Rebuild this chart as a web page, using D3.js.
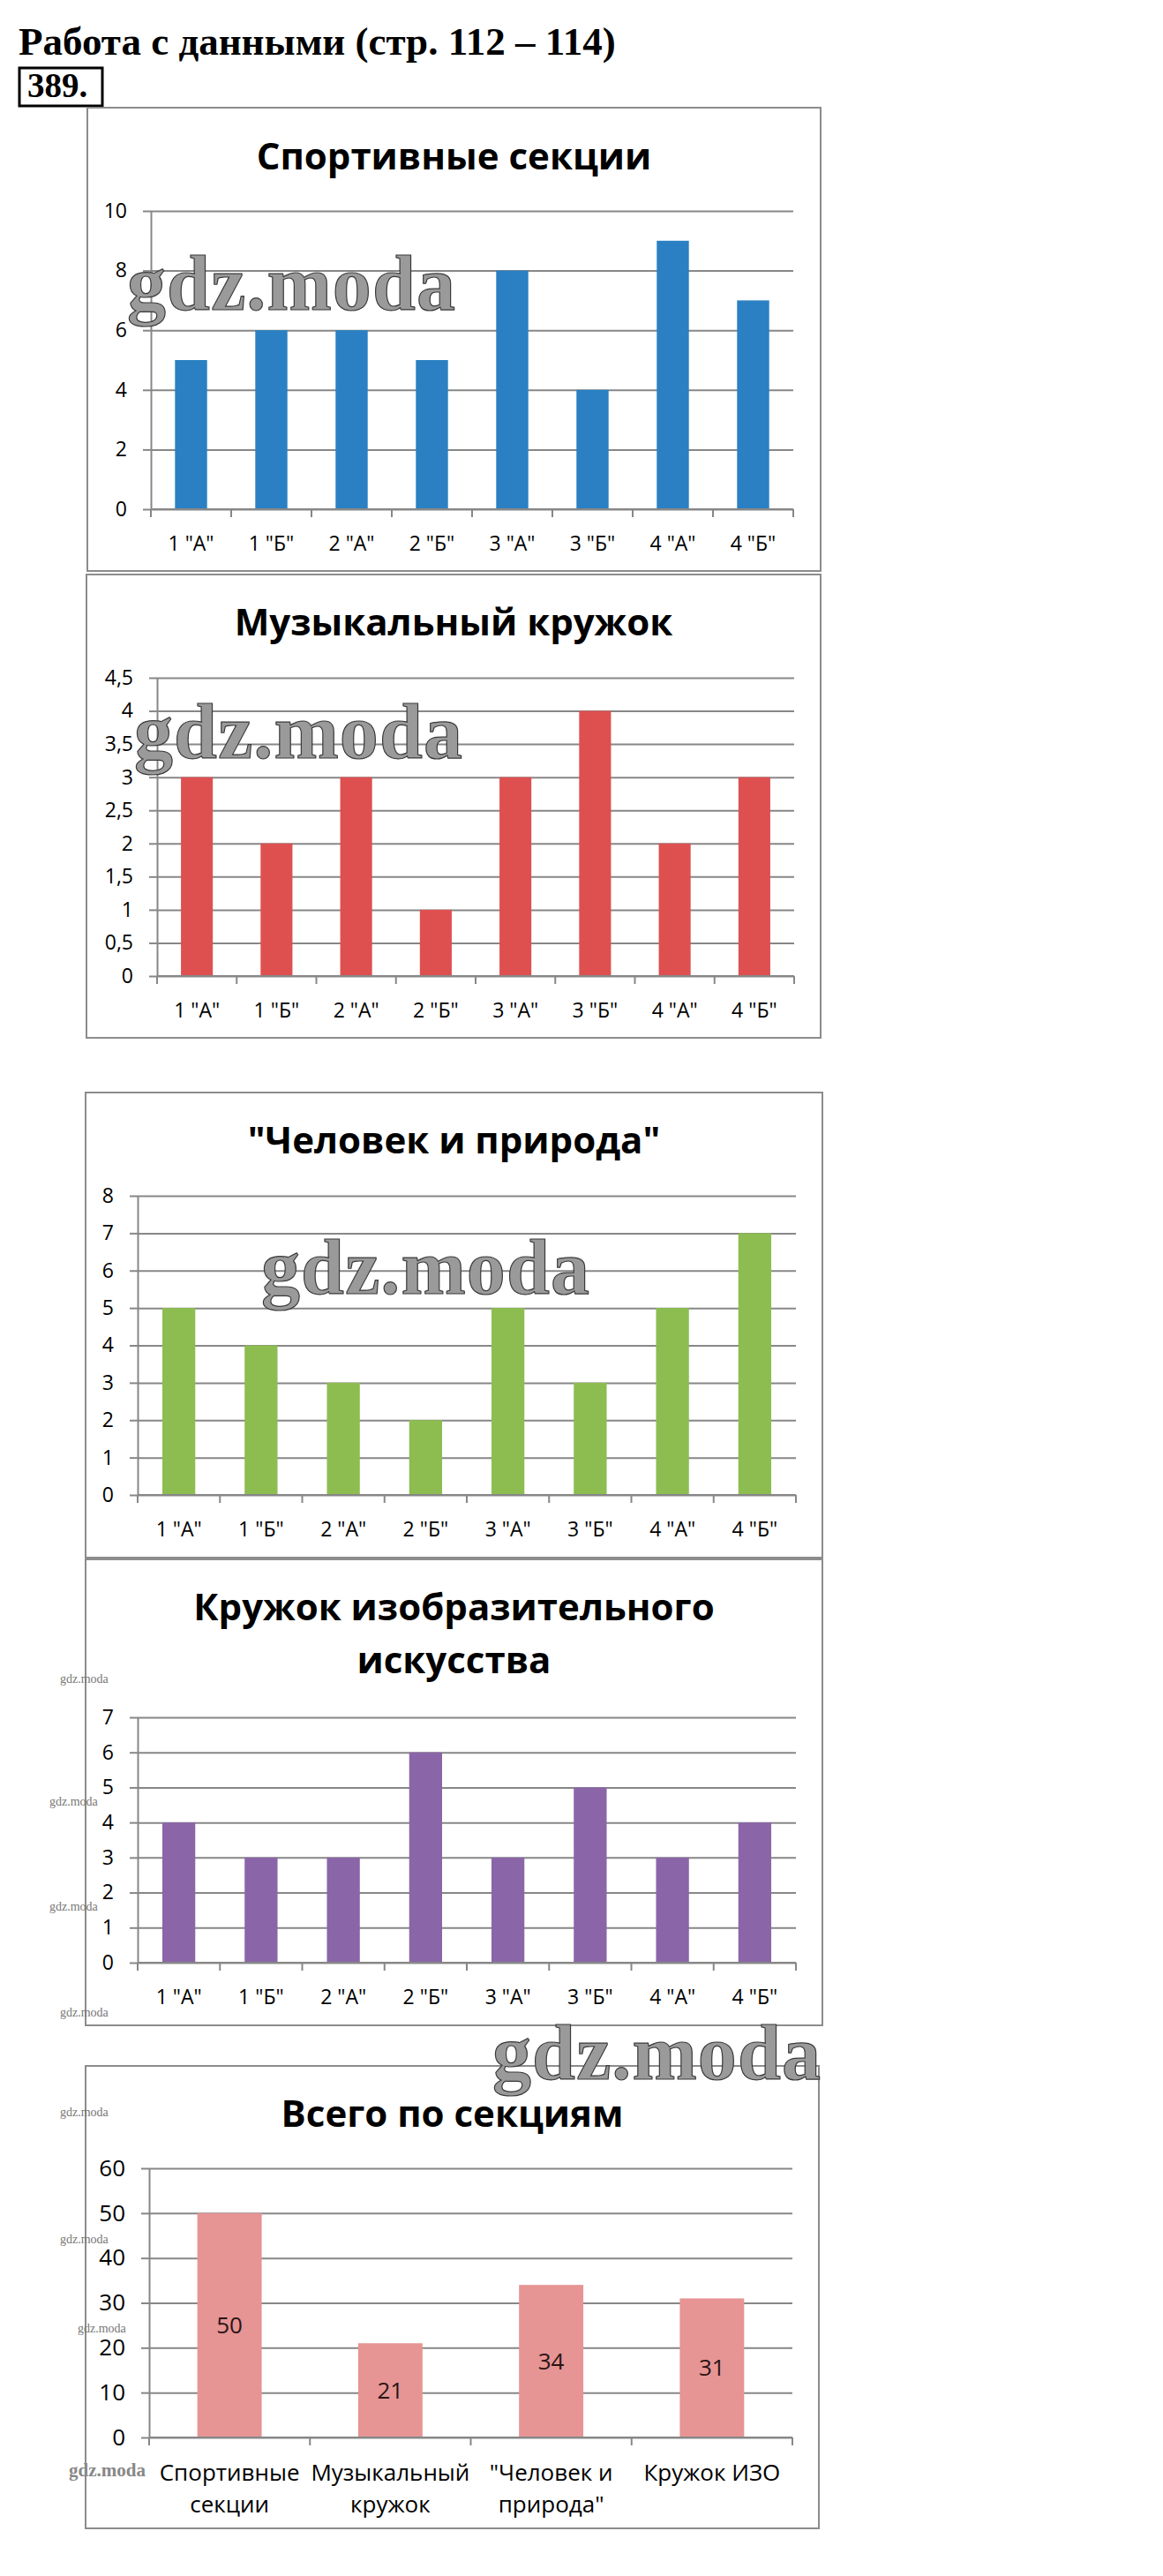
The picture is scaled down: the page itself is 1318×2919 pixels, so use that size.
<!DOCTYPE html>
<html>
<head>
<meta charset="utf-8">
<script src="https://cdn.jsdelivr.net/npm/d3@7"></script>
<style>
  body { margin: 0; background: #fff; }
  svg { display: block; }
</style>
</head>
<body>
<svg id="page"></svg>
<script>
// data
const classes = ['1 "А"', '1 "Б"', '2 "А"', '2 "Б"', '3 "А"', '3 "Б"', '4 "А"', '4 "Б"'];
const sportValues = [5, 6, 6, 5, 8, 4, 9, 7];
const musicValues = [3, 2, 3, 1, 3, 4, 2, 3];
const natureValues = [5, 4, 3, 2, 5, 3, 5, 7];
const artValues = [4, 3, 3, 6, 3, 5, 3, 4];
const totalCategories = ['Спортивные секции', 'Музыкальный кружок', '"Человек и природа"', 'Кружок ИЗО'];
const totalValues = [50, 21, 34, 31];

const sportTicks = [0, 2, 4, 6, 8, 10];
const musicTicks = [0, 0.5, 1, 1.5, 2, 2.5, 3, 3.5, 4, 4.5];
const natureTicks = [0, 1, 2, 3, 4, 5, 6, 7, 8];
const artTicks = [0, 1, 2, 3, 4, 5, 6, 7];
const totalTicks = [0, 10, 20, 30, 40, 50, 60];

const W = 1318, H = 2919;
const gridColor = "#878787";
const chartFont = "'Open Sans', sans-serif";

const svg = d3.select("#page").attr("width", W).attr("height", H);
svg.append("rect").attr("width", W).attr("height", H).attr("fill", "#fff");

// page header
svg.append("text")
  .attr("x", 21).attr("y", 62)
  .attr("font-family", "'Liberation Serif', serif")
  .attr("font-weight", "bold")
  .attr("font-size", 45)
  .text("Работа с данными (стр. 112 – 114)");

svg.append("rect")
  .attr("x", 22).attr("y", 77).attr("width", 94).attr("height", 43)
  .attr("fill", "none").attr("stroke", "#000").attr("stroke-width", 3);
svg.append("text")
  .attr("x", 31).attr("y", 110)
  .attr("font-family", "'Liberation Serif', serif")
  .attr("font-weight", "bold")
  .attr("font-size", 39)
  .text("389.");

const charts = [
  { title: ["Спортивные секции"], cats: classes, values: sportValues, ticks: sportTicks, color: "#2A80C2",
    box: [99, 122, 930, 647], plot: [171, 239, 899, 577], titleY: 192, fs: 23 },
  { title: ["Музыкальный кружок"], cats: classes, values: musicValues, ticks: musicTicks, color: "#DE5050",
    box: [98, 651, 930, 1176], plot: [178, 768, 900, 1106], titleY: 720, fs: 23 },
  { title: ['"Человек и природа"'], cats: classes, values: natureValues, ticks: natureTicks, color: "#8DBD50",
    box: [97, 1238, 932, 1765], plot: [156, 1355, 902, 1694], titleY: 1307, fs: 23 },
  { title: ["Кружок изобразительного", "искусства"], cats: classes, values: artValues, ticks: artTicks, color: "#8A66A8",
    box: [97, 1767, 932, 2295], plot: [156, 1946, 902, 2224], titleY: 1836, fs: 23 },
  { title: ["Всего по секциям"], cats: totalCategories, values: totalValues, ticks: totalTicks, color: "#E69494",
    box: [97, 2341, 928, 2865], plot: [169, 2457, 898, 2762], titleY: 2410, fs: 26, labels: true, wrap: true }
];

const fmt = d => String(d).replace(".", ",");

function drawChart(c) {
  const [bx0, by0, bx1, by1] = c.box;
  const [px0, py0, px1, py1] = c.plot;
  const g = svg.append("g");

  g.append("rect")
    .attr("x", bx0).attr("y", by0)
    .attr("width", bx1 - bx0).attr("height", by1 - by0)
    .attr("fill", "#fff").attr("stroke", "#8c8c8c").attr("stroke-width", 2);

  g.selectAll(".title").data(c.title).enter().append("text")
    .attr("class", "title")
    .attr("x", (bx0 + bx1) / 2)
    .attr("y", (d, i) => c.titleY + i * 60)
    .attr("text-anchor", "middle")
    .attr("font-family", chartFont)
    .attr("font-weight", "bold")
    .attr("font-size", 42)
    .text(d => d);

  const x = d3.scaleBand()
    .domain(c.cats)
    .range([px0, px1])
    .paddingInner(0.6)
    .paddingOuter(0.3);

  const y = d3.scaleLinear()
    .domain([0, d3.max(c.ticks)])
    .range([py1, py0]);

  // horizontal gridlines
  g.append("g")
    .attr("transform", `translate(${px0},0)`)
    .call(d3.axisLeft(y).tickValues(c.ticks).tickSize(-(px1 - px0)).tickFormat(""))
    .call(s => s.select(".domain").remove())
    .selectAll("line").attr("stroke", gridColor).attr("stroke-width", 2);

  // y axis with labels
  const yAxis = g.append("g")
    .attr("transform", `translate(${px0},0)`)
    .call(d3.axisLeft(y).tickValues(c.ticks).tickSize(9).tickSizeOuter(0).tickPadding(18).tickFormat(fmt));
  yAxis.select(".domain").attr("stroke", gridColor).attr("stroke-width", 2);
  yAxis.selectAll("line").attr("stroke", gridColor).attr("stroke-width", 2);
  yAxis.selectAll("text")
    .attr("font-family", chartFont)
    .attr("font-size", c.fs)
    .attr("fill", "#000");

  // bars
  g.selectAll(".bar").data(c.values).enter().append("rect")
    .attr("class", "bar")
    .attr("x", (d, i) => x(c.cats[i]))
    .attr("y", d => y(d))
    .attr("width", x.bandwidth())
    .attr("height", d => y(0) - y(d))
    .attr("fill", c.color);

  // x axis line with ticks on category boundaries
  const xAxis = g.append("g")
    .attr("transform", `translate(0,${py1})`)
    .call(d3.axisBottom(x).tickSize(0).tickPadding(31));
  xAxis.select(".domain").remove();
  xAxis.selectAll("text")
    .attr("font-family", chartFont)
    .attr("font-size", c.fs)
    .attr("fill", "#000");
  xAxis.append("line")
    .attr("x1", px0).attr("x2", px1)
    .attr("stroke", gridColor).attr("stroke-width", 2);
  xAxis.selectAll(".bound").data(d3.range(c.cats.length + 1)).enter().append("line")
    .attr("class", "bound")
    .attr("x1", i => px0 + i * x.step()).attr("x2", i => px0 + i * x.step())
    .attr("y1", 0).attr("y2", 9)
    .attr("stroke", gridColor).attr("stroke-width", 2);

  // long category names go on two lines
  if (c.wrap) {
    xAxis.selectAll(".tick text").each(function () {
      const t = d3.select(this);
      const words = t.text().split(" ");
      const lines = [];
      let cur = [];
      t.text(null);
      words.forEach(w => {
        cur.push(w);
        t.text(cur.join(" "));
        if (this.getComputedTextLength() > x.step() - 10 && cur.length > 1) {
          cur.pop();
          lines.push(cur.join(" "));
          cur = [w];
        }
      });
      lines.push(cur.join(" "));
      t.text(null);
      lines.forEach((l, k) => {
        t.append("tspan").attr("x", 0).attr("dy", k === 0 ? "0.71em" : "1.35em").text(l);
      });
      t.attr("dy", null);
    });
  }

  if (c.labels) {
    g.selectAll(".val").data(c.values).enter().append("text")
      .attr("class", "val")
      .attr("x", (d, i) => x(c.cats[i]) + x.bandwidth() / 2)
      .attr("y", d => (y(d) + y(0)) / 2)
      .attr("dy", "0.35em")
      .attr("text-anchor", "middle")
      .attr("font-family", chartFont)
      .attr("font-size", c.fs)
      .attr("fill", "#2a1414")
      .text(d => d);
  }
}

charts.forEach(drawChart);

// watermarks over the scan
const bigMarks = [[144, 351], [152, 859], [296, 1466], [558, 2356]];
svg.selectAll(".wm").data(bigMarks).enter().append("text")
  .attr("class", "wm")
  .attr("x", d => d[0]).attr("y", d => d[1])
  .attr("font-family", "'Liberation Serif', serif")
  .attr("font-weight", "bold")
  .attr("font-size", 88)
  .attr("fill", "#9a9a9a")
  .attr("stroke", "#3a3a3a")
  .attr("stroke-width", 1.2)
  .attr("textLength", 372)
  .text("gdz.moda");

const smallMarks = [[68, 1907], [56, 2046], [56, 2165], [68, 2285], [68, 2398], [68, 2542], [88, 2643]];
svg.selectAll(".wms").data(smallMarks).enter().append("text")
  .attr("class", "wms")
  .attr("x", d => d[0]).attr("y", d => d[1])
  .attr("font-family", "'Liberation Serif', serif")
  .attr("font-size", 14)
  .attr("fill", "#777")
  .text("gdz.moda");
svg.append("text")
  .attr("x", 78).attr("y", 2806)
  .attr("font-family", "'Liberation Serif', serif")
  .attr("font-weight", "bold")
  .attr("font-size", 21)
  .attr("fill", "#888")
  .text("gdz.moda");
</script>
</body>
</html>
